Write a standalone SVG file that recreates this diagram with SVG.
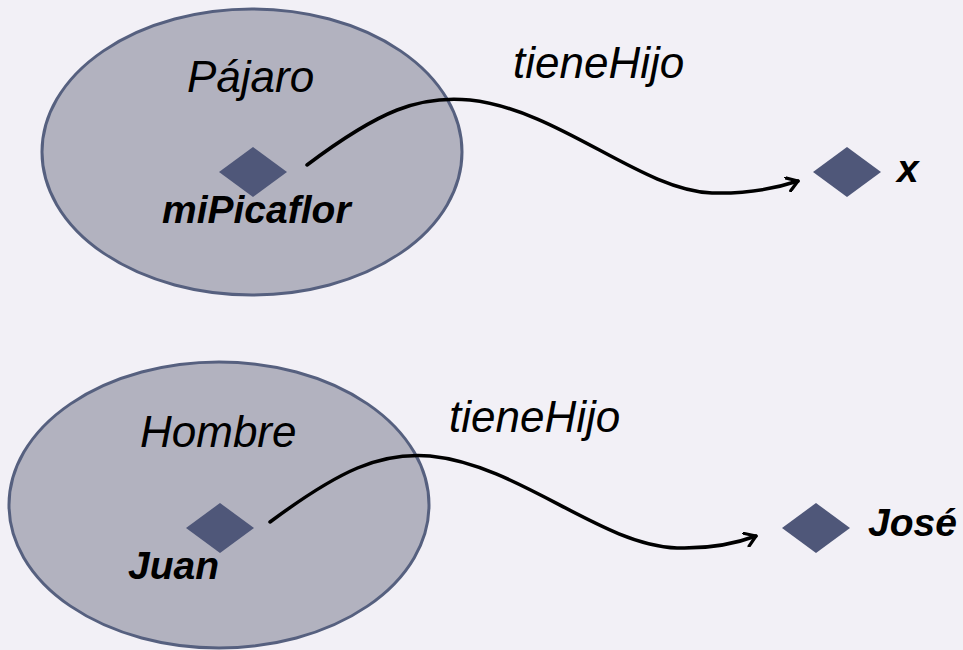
<svg xmlns="http://www.w3.org/2000/svg" width="963" height="650" viewBox="0 0 963 650">
<defs>
<style>
.set{fill:#b2b2bf;stroke:#56607f;stroke-width:3}
.ind{fill:#4f5779}
.cls{font-family:"Liberation Sans",Arial,sans-serif;font-style:italic;font-size:44px;fill:#000}
.lbl{font-family:"Liberation Sans",Arial,sans-serif;font-style:italic;font-weight:bold;font-size:39px;fill:#000}
.edge{fill:none;stroke:#000;stroke-width:3.5;stroke-linecap:round}
</style>
<marker id="arr" markerWidth="16" markerHeight="16" refX="12" refY="8" orient="auto" markerUnits="userSpaceOnUse" viewBox="0 0 16 16">
<path d="M1,1 L12,8 L2,15" fill="none" stroke="#000" stroke-width="3.2" stroke-linecap="round" stroke-linejoin="round"/>
</marker>
</defs>
<rect width="963" height="650" fill="#f2f0f6"/>
<g id="Pajaro">
<ellipse class="set" cx="252" cy="152" rx="210" ry="143"/>
<text class="cls" x="187" y="92">Pájaro</text>
</g>
<g id="Hombre">
<ellipse class="set" cx="219" cy="505" rx="210" ry="143"/>
<text class="cls" x="140" y="447">Hombre</text>
</g>
<g id="miPicaflor">
<polygon class="ind" points="253,147 287,172 253,197 219,172"/>
<text class="lbl" x="162" y="223">miPicaflor</text>
</g>
<g id="x">
<polygon class="ind" points="847,147 881,172 847,197 813,172"/>
<text class="lbl" x="897" y="182">x</text>
</g>
<g id="Juan">
<polygon class="ind" points="220,503 254,528 220,553 186,528"/>
<text class="lbl" x="128" y="579">Juan</text>
</g>
<g id="Jose">
<polygon class="ind" points="816,503 850,528 816,553 782,528"/>
<text class="lbl" x="868" y="536">José</text>
</g>
<g id="connectors">
<path class="edge" d="M307,165 C380,110 420,95 470,100 C560,110 640,190 712,193 C752,194 780,187 798,181" marker-end="url(#arr)"/>
<text class="cls" x="513" y="78">tieneHijo</text>
<path class="edge" d="M270,522 C340,470 380,452 430,456 C520,465 600,545 677,548 C712,549 740,542 756,536" marker-end="url(#arr)"/>
<text class="cls" x="449" y="432">tieneHijo</text>
</g>
</svg>
